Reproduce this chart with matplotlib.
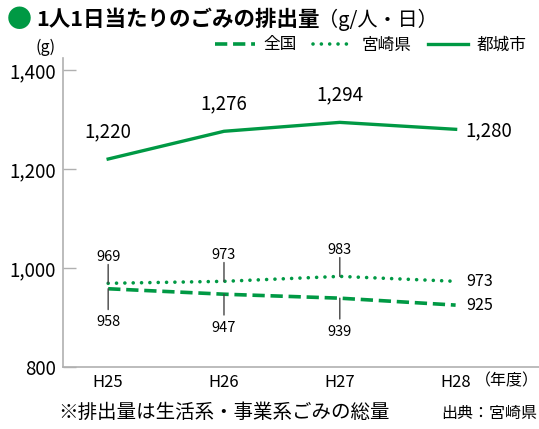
import matplotlib
matplotlib.use('Agg')
import matplotlib.pyplot as plt
from matplotlib.lines import Line2D

plt.rcParams['font.family'] = ['Noto Sans CJK JP', 'DejaVu Sans']

years = ['H25', 'H26', 'H27', 'H28']
zenkoku = [958, 947, 939, 925]
miyazaki = [969, 973, 983, 973]
miyakonojo = [1220, 1276, 1294, 1280]
y_ticks = [800, 1000, 1200, 1400]

green = '#009944'
grey = '#b0b0b0'
dash_ls = (0, (3.4, 1.6))
dot_ls = (0, (0.01, 2.3))

fig = plt.figure(figsize=(5.39, 4.29), dpi=100)
ax = fig.add_axes([63 / 539, 1 - 367 / 429, 1 - 63 / 539, (367 - 58) / 429])

x = list(range(len(years)))
ax.plot(x, zenkoku, color=green, lw=2.6, ls=dash_ls)
ax.plot(x, miyazaki, color=green, lw=2.6, ls=dot_ls, dash_capstyle='round')
ax.plot(x, miyakonojo, color=green, lw=2.4)

ax.set_xlim(-0.39, 3.72)
ax.set_ylim(800, 1424)
ax.set_yticks(y_ticks)
ax.set_yticklabels([f'{v:,}' for v in y_ticks], fontsize=13.5)
ax.set_xticks(x)
ax.set_xticklabels(years, fontsize=12)
ax.tick_params(axis='y', direction='in', length=9, color=grey, width=1, pad=5)
ax.tick_params(axis='x', length=0, pad=5)
for s in ['top', 'right']:
    ax.spines[s].set_visible(False)
for s in ['left', 'bottom']:
    ax.spines[s].set_color(grey)
    ax.spines[s].set_linewidth(1.2)

# labels for miyakonojo
for i, v in enumerate(miyakonojo[:-1]):
    ax.annotate(f'{v:,}', (i, v), xytext=(0, 12), textcoords='offset points',
                ha='center', va='bottom', fontsize=13.5)
ax.annotate(f'{miyakonojo[-1]:,}', (3, miyakonojo[-1]), xytext=(7, -1),
            textcoords='offset points', ha='left', va='center', fontsize=13.5)

# miyazaki labels with leader lines above
for i, v in enumerate(miyazaki[:-1]):
    ax.annotate(str(v), (i, v), xytext=(0, 14), textcoords='offset points',
                ha='center', va='bottom', fontsize=10.5)
    ax.annotate('', (i, v), xytext=(i, v + 38),
                arrowprops=dict(arrowstyle='-', color='#444444', lw=1, shrinkA=0, shrinkB=0))
ax.annotate(str(miyazaki[-1]), (3, miyazaki[-1]), xytext=(8, 0),
            textcoords='offset points', ha='left', va='center', fontsize=11.5)

# zenkoku labels with leader lines below
for i, v in enumerate(zenkoku[:-1]):
    ax.annotate(str(v), (i, v), xytext=(0, -19), textcoords='offset points',
                ha='center', va='top', fontsize=10.5)
    ax.annotate('', (i, v), xytext=(i, v - 42),
                arrowprops=dict(arrowstyle='-', color='#444444', lw=1, shrinkA=0, shrinkB=0))
ax.annotate(str(zenkoku[-1]), (3, zenkoku[-1]), xytext=(8, 0),
            textcoords='offset points', ha='left', va='center', fontsize=11.5)

# title
fig.text(7 / 539, 1 - 20 / 429, '●', color=green, fontsize=18, va='center', ha='left')
fig.text(36 / 539, 1 - 20 / 429, '1人1日当たりのごみの排出量', fontsize=15.5,
         va='center', ha='left', fontweight='bold')
fig.text(318 / 539, 1 - 20 / 429, '（g/人・日）', fontsize=14.5, va='center', ha='left')

fig.text(56 / 539, 1 - 47 / 429, '(g)', fontsize=11.5, va='center', ha='right')
fig.text(539 / 539, 1 - 381 / 429, '（年度）', fontsize=11.5, va='center', ha='right')

handles = [Line2D([], [], color=green, lw=2.6, ls=dash_ls),
           Line2D([], [], color=green, lw=2.6, ls=dot_ls, dash_capstyle='round'),
           Line2D([], [], color=green, lw=2.4)]
fig.legend(handles, ['全国', '宮崎県', '都城市'], loc='center right',
           bbox_to_anchor=(526 / 539, 1 - 45 / 429), ncol=3, frameon=False, fontsize=12,
           handlelength=2.4, handletextpad=0.5, columnspacing=1.0,
           borderaxespad=0, borderpad=0)

fig.text(58 / 539, 1 - 413 / 429, '※排出量は生活系・事業系ごみの総量', fontsize=14,
         va='center', ha='left')
fig.text(537 / 539, 1 - 413 / 429, '出典：宮崎県', fontsize=11.5, va='center', ha='right')

fig.savefig('out.png', dpi=100)
